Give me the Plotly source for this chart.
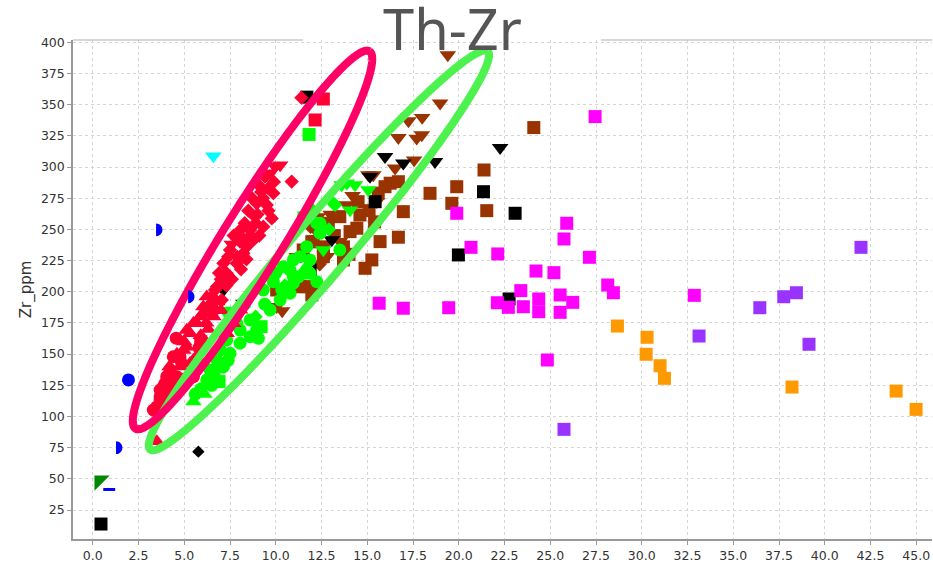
import math
import plotly.graph_objects as go

# ---------------------------------------------------------------- axes
X_RANGE = [-1.08, 45.86]
Y_RANGE = [1.8, 401.8]
X_TICKS = [0.0, 2.5, 5.0, 7.5, 10.0, 12.5, 15.0, 17.5, 20.0, 22.5, 25.0,
           27.5, 30.0, 32.5, 35.0, 37.5, 40.0, 42.5, 45.0]
Y_TICKS = [25, 50, 75, 100, 125, 150, 175, 200, 225, 250, 275, 300, 325,
           350, 375, 400]

# ---------------------------------------------------------------- samples (Th, Zr) in ppm
RED_DIAMOND = [
    (11.4, 355.6), (10.87, 288.3), (9.41, 292.3), (9.87, 279.0), (9.51, 269.6),
    (8.96, 270.9), (9.78, 258.8), (8.87, 260.2), (9.32, 252.2), (8.6, 249.5),
    (8.78, 241.5), (8.05, 240.1), (8.23, 230.8), (7.5, 233.5), (7.87, 222.8),
    (7.14, 222.8), (7.32, 214.8), (6.78, 204.0), (7.05, 193.4), (6.68, 201.4),
    (9.1, 285.0), (9.6, 283.0), (8.5, 265.0), (8.3, 255.0), (9.1, 245.0),
    (7.7, 245.0), (8.4, 236.0), (7.9, 228.0), (7.4, 228.0), (6.9, 215.0),
    (7.6, 210.0), (8.1, 218.0), (9.0, 262.0), (9.3, 275.0), (9.9, 288.0),
    (8.7, 275.0), (8.1, 250.0), (7.3, 205.0), (6.5, 196.0), (9.6, 265.0),
    (8.4, 226.0), (7.0, 210.0), (8.9, 255.0), (9.2, 280.0),
]
RED_TRI_DOWN = [(10.24, 301.5), (9.96, 300.3), (9.7, 295.0), (8.4, 244.0), (7.6, 238.0)]
RED_TRI_UP = [
    (6.23, 196.0), (6.04, 188.0), (5.86, 180.0), (5.5, 174.7), (5.14, 169.3),
    (6.41, 190.7), (6.04, 182.7), (5.68, 174.7), (5.32, 166.7), (5.14, 155.9),
    (4.95, 153.3), (5.5, 145.3), (5.68, 147.9), (4.77, 139.9), (5.32, 142.6),
    (3.5, 80.0), (6.2, 175.0), (6.6, 180.0), (5.9, 165.0), (4.6, 150.0),
    (4.2, 140.0), (7.0, 185.0), (7.68, 174.7), (7.32, 166.7), (8.05, 185.4),
    (6.8, 192.0), (6.3, 170.0), (5.0, 160.0),
]
RED_CIRCLE = [
    (4.56, 162.8), (4.4, 147.9), (4.04, 131.9), (3.68, 121.2), (4.32, 131.9),
    (3.95, 126.6), (3.68, 115.9), (3.5, 107.8), (3.31, 105.2), (4.86, 142.6),
    (5.68, 145.3), (5.41, 134.6), (4.22, 137.3), (4.59, 131.9), (3.86, 123.9),
    (4.4, 123.9), (3.68, 113.2), (5.5, 131.9), (4.77, 147.9), (4.1, 118.0),
    (4.7, 125.0), (5.0, 130.0), (3.9, 110.0), (5.8, 155.0),
]
RED_SQUARE = [(12.6, 354.5), (12.15, 337.7), (6.5, 185.0), (5.9, 160.0)]

GREEN_CIRCLE = [
    (9.32, 201.4), (9.69, 185.4), (10.24, 193.4), (10.78, 198.8), (10.96, 212.0),
    (8.6, 177.4), (7.87, 174.7), (8.96, 169.3), (8.6, 164.0), (9.05, 162.7),
    (8.05, 158.7), (7.32, 161.3), (6.96, 153.3), (7.5, 150.6), (6.78, 145.3),
    (7.14, 139.9), (6.41, 137.3), (6.23, 129.3), (7.68, 182.7), (8.05, 169.3),
    (11.51, 260.2), (12.42, 254.9), (13.5, 233.5), (11.33, 228.1), (11.87, 225.5),
    (11.6, 214.8), (10.96, 206.8), (10.33, 201.4), (12.24, 254.9), (12.42, 246.9),
    (11.69, 236.1), (10.96, 225.5), (11.87, 214.8), (11.24, 212.0), (10.78, 217.4),
    (12.24, 208.1), (9.87, 208.1), (5.9, 122.0), (5.6, 118.0), (6.5, 125.0),
    (7.4, 145.0), (8.3, 190.0), (9.4, 190.0), (10.0, 215.0), (10.4, 220.0),
]
GREEN_TRI_DOWN = [(13.88, 287.0), (14.33, 285.6), (15.06, 281.6), (13.6, 285.6),
                  (14.06, 265.5), (12.6, 233.5), (11.6, 261.5), (7.2, 185.0)]
GREEN_TRI_UP = [(6.78, 137.3), (6.78, 131.9), (11.69, 220.1), (12.0, 266.0),
                (5.5, 112.0), (6.1, 118.0)]
GREEN_DIAMOND = [(13.15, 270.9), (13.24, 269.6), (12.9, 250.0), (10.5, 205.0), (8.9, 180.0)]
GREEN_SQUARE = [(11.82, 326.1), (9.2, 172.0), (6.9, 128.0)]

BROWN_SQUARE = [
    (24.1, 331.6), (21.38, 297.6), (19.89, 284.2), (18.43, 278.9), (19.62, 270.9),
    (21.53, 265.0), (16.97, 264.2), (16.7, 243.7), (15.7, 240.2), (15.25, 225.5),
    (14.88, 218.8), (14.06, 248.2), (14.6, 261.5), (16.25, 287.0), (16.7, 288.2),
    (14.5, 272.2), (13.7, 236.0), (12.6, 236.0), (11.97, 240.1), (13.7, 225.5),
    (12.06, 201.4), (11.33, 204.0), (12.87, 254.9), (13.5, 260.2), (12.6, 228.1),
    (14.43, 250.9), (15.6, 279.0), (15.97, 284.2), (12.05, 240.1), (11.5, 233.5),
    (11.69, 204.1), (11.97, 197.4), (10.05, 201.4), (15.1, 265.0), (14.0, 230.0),
    (13.2, 245.0), (15.4, 256.0),
]
BROWN_TRI_DOWN = [
    (19.4, 389.8), (18.98, 351.1), (17.25, 336.9), (18.0, 339.6), (16.7, 323.5),
    (17.7, 323.0), (17.98, 325.7), (17.56, 305.6), (16.52, 299.0), (15.33, 293.6),
    (15.52, 272.2), (13.88, 269.6), (15.06, 293.6), (13.5, 240.1), (12.79, 228.1),
    (11.15, 228.1), (10.05, 188.0), (10.35, 184.6), (12.3, 260.0), (13.0, 262.0),
    (14.2, 277.0),
]
BROWN_DIAMOND = [(12.3, 248.0), (11.9, 252.0), (11.0, 208.0), (12.4, 222.0)]

BLACK_SQUARE = [(0.45, 13.8), (21.35, 280.2), (23.08, 262.9), (19.98, 229.5),
                (22.75, 194.2), (15.43, 272.2), (11.7, 356.0), (11.88, 217.4)]
BLACK_TRI_DOWN = [(22.26, 315.5), (15.97, 308.3), (16.97, 303.0), (18.7, 304.3),
                  (13.06, 241.5), (15.15, 292.3), (8.23, 190.7), (7.14, 201.4)]
BLACK_DIAMOND = [(5.77, 71.8)]

MAGENTA_SQUARE = [
    (27.45, 340.4), (19.89, 262.9), (20.67, 235.6), (22.13, 230.3), (25.9, 254.9),
    (25.75, 242.3), (27.14, 227.6), (24.22, 216.6), (25.2, 215.3), (23.39, 200.9),
    (22.11, 191.2), (22.71, 187.5), (23.53, 188.0), (24.37, 194.2), (24.37, 184.0),
    (25.54, 197.4), (26.23, 191.5), (25.54, 183.5), (28.14, 205.4), (28.45, 199.2),
    (19.45, 187.2), (24.84, 145.3), (32.87, 197.1), (15.65, 190.8), (16.97, 186.8),
]
ORANGE_SQUARE = [(28.67, 172.5), (30.29, 163.5), (30.24, 149.9), (31.0, 140.7),
                 (31.24, 130.6), (38.21, 123.6), (43.9, 120.4), (44.99, 105.7)]
PURPLE_SQUARE = [(41.98, 235.6), (37.76, 196.0), (38.45, 199.2), (36.45, 187.2),
                 (33.13, 164.5), (39.14, 157.9), (25.75, 89.7)]

BLUE_HALF_CIRCLE = [(1.27, 75.0), (3.46, 249.6), (5.21, 196.0)]
BLUE_CIRCLE = [(1.95, 129.3)]
BLUE_DASH = [(0.9, 41.5)]
CYAN_TRI_DOWN = [(6.59, 308.8)]
DARKGREEN_TRI = [(0.37, 48.6)]

# group outlines: centre (Th, Zr), semi-axes in screen px, tilt in degrees
PINK_OUTLINE = dict(cx=8.73, cy=241.5, a=222, b=30, tilt=58.2)
GREEN_OUTLINE = dict(cx=12.36, cy=233.2, a=261, b=28, tilt=49.7)

# ---------------------------------------------------------------- figure geometry
W, H = 933, 563
ML, MR, MT, MB = 73, 1, 40, 24
PLOT_W = W - ML - MR
PLOT_H = H - MT - MB
PX_PER_X = PLOT_W / (X_RANGE[1] - X_RANGE[0])
PX_PER_Y = PLOT_H / (Y_RANGE[1] - Y_RANGE[0])

fig = go.Figure()

SQ, CI, TR, DI = 13, 13, 14.5, 11


def add_points(points, color, symbol, size, line_width=0):
    fig.add_trace(go.Scatter(
        x=[p[0] for p in points], y=[p[1] for p in points],
        mode="markers", hoverinfo="x+y", showlegend=False,
        marker=dict(color=color, symbol=symbol, size=size,
                    line=dict(width=line_width, color=color)),
    ))


RED = "#ff0033"
GREEN = "#00ff00"
BROWN = "#993300"

add_points(BROWN_SQUARE, BROWN, "square", SQ)
add_points(BROWN_DIAMOND, BROWN, "diamond", DI)
add_points(BROWN_TRI_DOWN, BROWN, "triangle-down", TR)
add_points(BLACK_SQUARE, "#000000", "square", SQ)
add_points(BLACK_TRI_DOWN, "#000000", "triangle-down", TR)
add_points(BLACK_DIAMOND, "#000000", "diamond", 9.5)
add_points(GREEN_CIRCLE, GREEN, "circle", CI)
add_points(GREEN_TRI_UP, GREEN, "triangle-up", TR)
add_points(GREEN_TRI_DOWN, GREEN, "triangle-down", TR)
add_points(GREEN_DIAMOND, GREEN, "diamond", DI)
add_points(GREEN_SQUARE, GREEN, "square", SQ)
add_points(RED_CIRCLE, RED, "circle", CI)
add_points(RED_TRI_UP, RED, "triangle-up", TR)
add_points(RED_TRI_DOWN, RED, "triangle-down", TR)
add_points(RED_DIAMOND, RED, "diamond", DI)
add_points(RED_SQUARE, RED, "square", SQ)
add_points(MAGENTA_SQUARE, "#ff00ff", "square", SQ)
add_points(ORANGE_SQUARE, "#ff9900", "square", SQ)
add_points(PURPLE_SQUARE, "#9933ff", "square", SQ)
add_points(BLUE_CIRCLE, "#0000ff", "circle", CI)
add_points(BLUE_DASH, "#0000ff", "line-ew", 8.5, line_width=3)
add_points(CYAN_TRI_DOWN, "#00ffff", "triangle-down", TR)
add_points(DARKGREEN_TRI, "#008800", "triangle-nw", 17)


def outline(spec, color):
    th = math.radians(spec["tilt"])
    xs, ys = [], []
    n = 360
    for i in range(n + 1):
        t = 2 * math.pi * i / n
        u = spec["a"] * math.cos(t)
        v = spec["b"] * math.sin(t)
        px = u * math.cos(th) - v * math.sin(th)
        py = u * math.sin(th) + v * math.cos(th)
        xs.append(spec["cx"] + px / PX_PER_X)
        ys.append(spec["cy"] + py / PX_PER_Y)
    fig.add_trace(go.Scatter(x=xs, y=ys, mode="lines", hoverinfo="skip",
                             showlegend=False,
                             line=dict(color=color, width=8, simplify=False)))


outline(GREEN_OUTLINE, "#4ef24e")
outline(PINK_OUTLINE, "#ff0066")

# right-half-disc symbols (flat side on the left)
R = 6.4
K = 0.5523 * R
half_disc = (f"M 0,{-R} C {K},{-R} {R},{-K} {R},0 "
             f"C {R},{K} {K},{R} 0,{R} Z")
shapes = []
for hx, hy in BLUE_HALF_CIRCLE:
    shapes.append(dict(type="path", xref="x", yref="y",
                       xsizemode="pixel", ysizemode="pixel",
                       xanchor=hx, yanchor=hy, path=half_disc,
                       fillcolor="#0000ff", line=dict(width=0)))

# top frame line, interrupted behind the chart title
GAP_L, GAP_R = (303 - ML) / PLOT_W, (601 - ML) / PLOT_W
for x0, x1 in [(0, GAP_L), (GAP_R, 1)]:
    shapes.append(dict(type="line", xref="paper", yref="paper",
                       x0=x0, x1=x1, y0=1, y1=1,
                       line=dict(color="#b0b0b0", width=1)))

tick_font = dict(family="DejaVu Sans", size=12.5, color="#333333")
grid = dict(showgrid=True, gridcolor="#d6d6d6", gridwidth=1, griddash="3px,3px",
            zeroline=False, showline=True, linecolor="#999999", linewidth=1.5,
            ticks="outside", ticklen=4, tickcolor="#999999", tickwidth=1,
            tickfont=tick_font)

fig.update_layout(
    width=W, height=H,
    margin=dict(l=ML, r=MR, t=MT, b=MB, pad=0),
    paper_bgcolor="white", plot_bgcolor="white",
    xaxis=dict(range=X_RANGE, tickvals=X_TICKS, tickformat=".1f", **grid),
    yaxis=dict(range=Y_RANGE, tickvals=Y_TICKS,
               title=dict(text="Zr_ppm", standoff=6,
                          font=dict(family="DejaVu Sans", size=15, color="#333333")),
               **grid),
    shapes=shapes,
    annotations=[dict(text="Th-Zr", xref="paper", yref="paper",
                      x=(452 - ML) / PLOT_W, y=1 - 28 / PLOT_H,
                      xanchor="center", yanchor="bottom", showarrow=False,
                      font=dict(family="Noto Sans", size=56, color="#555555"))],
)

fig.write_html("out.html")
